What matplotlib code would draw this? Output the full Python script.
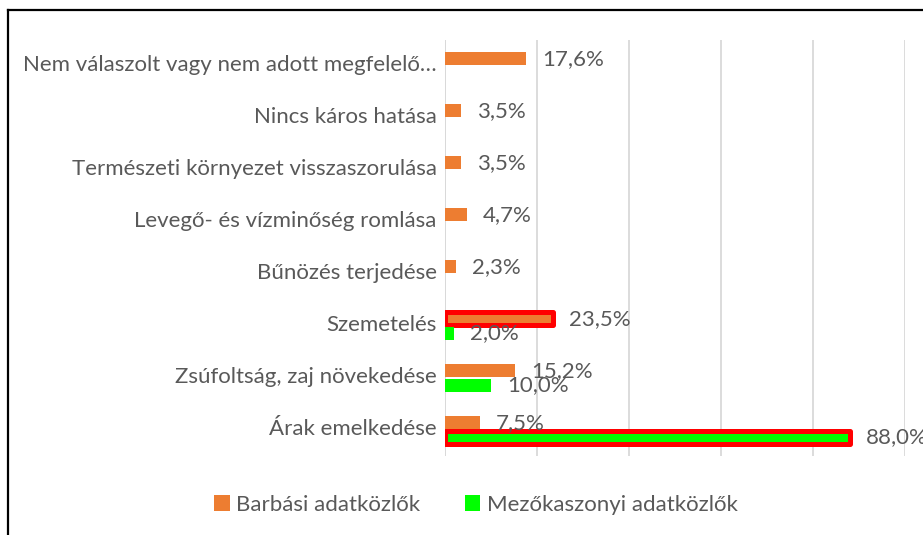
import numpy as np
import matplotlib
matplotlib.use("Agg")
import matplotlib.pyplot as plt
import matplotlib.transforms as mtransforms
from matplotlib.lines import Line2D
from matplotlib.patches import Patch

categories = [
    "Nem válaszolt vagy nem adott megfelelő…",
    "Nincs káros hatása",
    "Természeti környezet visszaszorulása",
    "Levegő- és vízminőség romlása",
    "Bűnözés terjedése",
    "Szemetelés",
    "Zsúfoltság, zaj növekedése",
    "Árak emelkedése",
]
barbasi = [17.6, 3.5, 3.5, 4.7, 2.3, 23.5, 15.2, 7.5]
mezokaszonyi = [np.nan, np.nan, np.nan, np.nan, np.nan, 2.0, 10.0, 88.0]
series_names = ["Barbási adatközlők", "Mezőkaszonyi adatközlők"]

ORANGE = "#ED7D31"
GREEN = "#00FF00"
RED = "#FF0000"
TXT = "#595959"
GRID = "#D9D9D9"

plt.rcParams['font.family'] = ['Lato', 'DejaVu Sans']
FS = 16

W, H = 923, 535
fig = plt.figure(figsize=(W / 100, H / 100), dpi=100)
ax = fig.add_axes([445 / W, 1 - 456 / H, (905 - 445) / W, (456 - 40) / H])

y = np.arange(len(categories))
h = 0.25
off = 0.135
b1 = ax.barh(y - off, barbasi, height=h, color=ORANGE, zorder=3)
b2 = ax.barh(y + off, mezokaszonyi, height=h, color=GREEN, zorder=3)

# highlighted bars
for bar in (b1[5], b2[7]):
    bar.set_edgecolor(RED)
    bar.set_linewidth(3.6)
    bar.set_joinstyle('round')

for vals, yy in ((barbasi, y - off), (mezokaszonyi, y + off)):
    for v, yc in zip(vals, yy):
        if np.isnan(v):
            continue
        ax.annotate(f"{v:.1f}%".replace(".", ","), xy=(v, yc),
                    xytext=(16, 0), textcoords="offset pixels",
                    ha="left", va="center", fontsize=FS, color=TXT, zorder=5)

ax.set_xlim(0, 100)
ax.set_ylim(len(categories) - 0.5, -0.5)
ax.set_xticks([0, 20, 40, 60, 80, 100])
ax.set_xticklabels([])
ax.tick_params(axis='x', length=0)
ax.set_yticks(y, categories)
ax.tick_params(axis='y', length=0, pad=6, labelsize=FS, labelcolor=TXT)
shift = mtransforms.ScaledTranslation(0, 3 / 100, fig.dpi_scale_trans)
for lab in ax.get_yticklabels():
    lab.set_transform(lab.get_transform() + shift)
ax.grid(axis='x', color=GRID, linewidth=1.3, zorder=0)
for s in ax.spines.values():
    s.set_visible(False)
ax.axvline(0, color=GRID, linewidth=1.3, zorder=1)

handles = [Patch(facecolor=ORANGE), Patch(facecolor=GREEN)]
fig.legend(handles, series_names, loc="center", bbox_to_anchor=(476 / W, 1 - 505 / H),
           ncol=2, frameon=False, fontsize=FS, labelcolor=TXT,
           handlelength=0.7, handleheight=0.7, handletextpad=0.3, columnspacing=2.0)

# outer frame (left and top)
fig.add_artist(Line2D([8 / W, 8 / W], [0, 1 - 10 / H], color="black", linewidth=1.6,
                      transform=fig.transFigure))
fig.add_artist(Line2D([8 / W, 1], [1 - 10 / H, 1 - 10 / H], color="black", linewidth=1.6,
                      transform=fig.transFigure))

fig.savefig("out.png", dpi=100)
